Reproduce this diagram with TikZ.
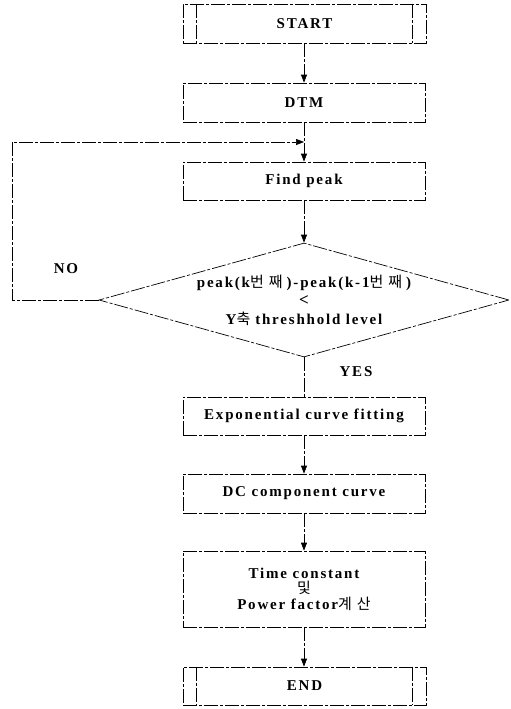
\documentclass[tikz,border=0pt]{standalone}
\usepackage{fontspec}
\setmainfont[LetterSpace=12]{Liberation Serif}
\newfontfamily\kr{Noto Sans CJK KR}
\usetikzlibrary{shapes.geometric,arrows.meta}
\begin{document}
\begin{tikzpicture}[x=1pt,y=-1pt,
  ln/.style={line width=0.7pt, dash pattern=on 14pt off 2pt on 3pt off 2pt},
  box/.style={ln, draw, rectangle, minimum width=242pt, inner sep=0pt, align=center, font=\fontsize{15}{17}\selectfont\bfseries},
  term/.style={box, minimum width=243pt},
  dec/.style={ln, draw, diamond, aspect=3.6, minimum width=410pt, minimum height=114pt, inner sep=0pt, align=center, font=\fontsize{15}{18.5}\selectfont\bfseries},
  arr/.style={ln, -{Triangle[width=6pt,length=8pt]}},
  lab/.style={font=\fontsize{15}{17}\selectfont\bfseries}]
\useasboundingbox (0,0) rectangle (511,709);
\node[term, minimum height=39pt] (start) at (304.5,23.5) {START};
\draw[ln] ([xshift=14pt]start.north west) -- ([xshift=14pt]start.south west);
\draw[ln] ([xshift=-14pt]start.north east) -- ([xshift=-14pt]start.south east);
\node[box, minimum height=39pt] (dtm) at (304,102.5) {DTM};
\node[box, minimum height=38pt] (find) at (304,181) {Find peak};
\node[dec] (dia) at (304,300) {peak(k{\kr\mdseries 번\hspace{5pt}째}\hspace{4pt})-peak(k-1{\kr\mdseries 번\hspace{5pt}째}\hspace{4pt})\\{\fontsize{17}{18.5}\selectfont <}\\Y{\kr\mdseries 축}\hspace{5pt}threshhold level};
\node[box, minimum height=38pt] (exp) at (304,416) {Exponential curve fitting};
\node[box, minimum height=39pt] (dc) at (304,493.5) {DC component curve};
\node[box, minimum height=76pt, font=\fontsize{15}{15.5}\selectfont\bfseries] (tc) at (304,589) {Time constant\\{\kr\mdseries 및}\\Power factor{\kr\mdseries 계\hspace{5pt}산}};
\node[term, minimum height=38pt] (end) at (304.5,686) {END};
\draw[ln] ([xshift=14pt]end.north west) -- ([xshift=14pt]end.south west);
\draw[ln] ([xshift=-14pt]end.north east) -- ([xshift=-14pt]end.south east);
\coordinate (fb) at (12,142);
\draw[arr] (start.south -| dtm.north) -- (dtm.north);
\draw[arr] (dtm.south) -- (find.north);
\draw[arr] (dia.west) -| (fb) -- (fb -| dtm.south);
\draw[arr] (find.south) -- (dia.north);
\draw[ln] (dia.south) -- (exp.north);
\draw[arr] (exp.south) -- (dc.north);
\draw[arr] (dc.south) -- (tc.north);
\draw[arr] (tc.south) -- (end.north -| tc.south);
\node[lab] (no) at (66,269) {NO};
\node[lab] (yes) at (356,372) {YES};
\end{tikzpicture}
\end{document}
